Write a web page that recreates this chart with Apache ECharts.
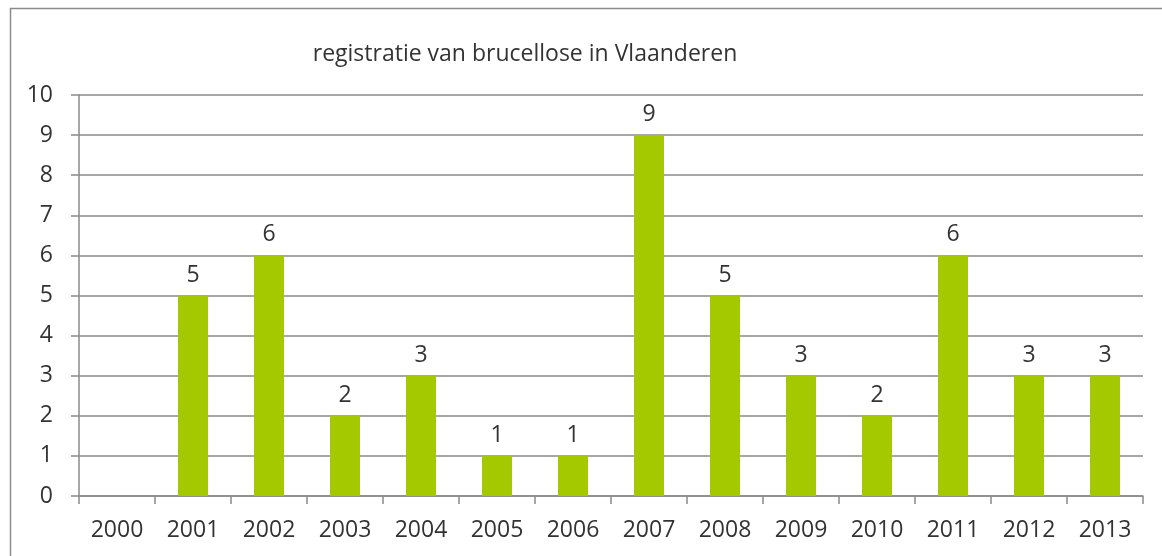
<!DOCTYPE html>
<html>
<head>
<meta charset="utf-8">
<script src="https://cdn.jsdelivr.net/npm/echarts@6/dist/echarts.min.js"></script>
<style>
html,body{margin:0;padding:0;background:#fff;}
#chart{width:1162px;height:556px;}
</style>
</head>
<body>
<div id="chart"></div>
<script>
var titleText = 'registratie van brucellose in Vlaanderen';
var years = ['2000','2001','2002','2003','2004','2005','2006','2007','2008','2009','2010','2011','2012','2013'];
var cases = [0, 5, 6, 2, 3, 1, 1, 9, 5, 3, 2, 6, 3, 3];
var yTicks = [0, 10, 1];

var chart = echarts.init(document.getElementById('chart'));
var font = 'Open Sans';
var textColor = '#333333';
var lineColor = '#8a8a8a';
chart.setOption({
  animation: false,
  backgroundColor: '#ffffff',
  title: {
    text: titleText,
    left: 520,
    textAlign: 'center',
    top: 38,
    textStyle: {fontFamily: font, fontSize: 23, fontWeight: 'normal', color: textColor}
  },
  graphic: [{
    type: 'rect',
    shape: {x: 10.5, y: 8.5, width: 1200, height: 600},
    style: {fill: 'none', stroke: '#8c8c8c', lineWidth: 1.5},
    silent: true
  }],
  grid: {left: 79, right: 19, top: 95, bottom: 60, containLabel: false},
  xAxis: {
    type: 'category',
    data: years,
    axisLine: {lineStyle: {color: lineColor, width: 1.5}},
    axisTick: {show: true, length: 8, alignWithLabel: false, lineStyle: {color: lineColor, width: 1.5}},
    axisLabel: {fontFamily: font, fontSize: 23, color: textColor, margin: 23}
  },
  yAxis: {
    type: 'value',
    min: yTicks[0], max: yTicks[1], interval: yTicks[2],
    axisLine: {show: true, lineStyle: {color: lineColor, width: 1.5}},
    axisTick: {show: true, length: 8, lineStyle: {color: lineColor, width: 1.5}},
    splitLine: {show: true, lineStyle: {color: lineColor, width: 1.5}},
    axisLabel: {fontFamily: font, fontSize: 23, color: textColor, margin: 26}
  },
  series: [{
    type: 'bar',
    data: cases,
    barWidth: 30,
    itemStyle: {color: '#a4c900'},
    label: {
      show: true,
      position: 'top',
      distance: 9,
      fontFamily: font,
      fontSize: 23,
      color: textColor,
      formatter: function (p) { return p.value === 0 ? '' : String(p.value); }
    }
  }]
});
</script>
</body>
</html>
